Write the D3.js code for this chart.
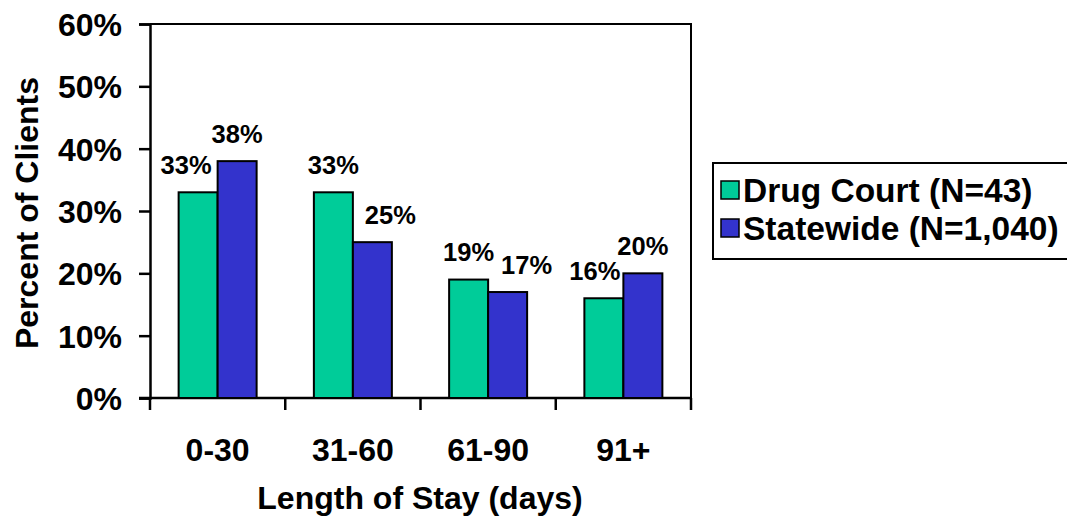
<!DOCTYPE html>
<html>
<head>
<meta charset="utf-8">
<script src="https://cdn.jsdelivr.net/npm/d3@7"></script>
<style>
  html, body { margin: 0; padding: 0; background: #fff; }
  svg text { font-family: "Liberation Sans", Arial, sans-serif; font-weight: bold; fill: #000; }
</style>
</head>
<body>
<svg id="chart" width="1067" height="521"></svg>
<script>
// Length-of-stay categories and the share of clients in each (percent)
const categories = ["0-30", "31-60", "61-90", "91+"];
const drugCourt = [33, 33, 19, 16];
const statewide = [38, 25, 17, 20];
const seriesNames = ["Drug Court (N=43)", "Statewide (N=1,040)"];
const seriesColors = ["#00CC99", "#3333CC"];
const yTicks = [0, 10, 20, 30, 40, 50, 60];

// Horizontal nudges for value labels so neighbouring labels do not collide
const labelShift = [[-12, 0], [0, 18], [0, 19], [-9, 0]];

const svg = d3.select("#chart");
const plot = { left: 150, right: 691, top: 24, bottom: 398 };

const x0 = d3.scaleBand()
  .domain(categories)
  .range([plot.left, plot.right])
  .paddingInner(0.4233)
  .paddingOuter(0.4233 / 2);

const x1 = d3.scaleBand()
  .domain([0, 1])
  .range([0, x0.bandwidth()]);

const y = d3.scaleLinear().domain([0, 60]).range([plot.bottom, plot.top]);

// Plot frame (top and right edges)
svg.append("path")
  .attr("d", `M${plot.left},${plot.top}H${plot.right}V${plot.bottom}`)
  .attr("fill", "none").attr("stroke", "#000").attr("stroke-width", 2);

// Y axis
const yAxis = svg.append("g")
  .attr("transform", `translate(${plot.left},0)`)
  .call(d3.axisLeft(y).tickValues(yTicks).tickSize(11).tickPadding(17).tickFormat(d => d + "%"));
yAxis.select(".domain").attr("stroke", "#000").attr("stroke-width", 2.5);
yAxis.selectAll(".tick line").attr("stroke", "#000").attr("stroke-width", 2.5);
yAxis.selectAll(".tick text")
  .style("font-size", "32px")
  .attr("dy", "0.36em");

// X axis: baseline plus tick marks at category boundaries
const step = x0.step();
const boundaries = categories.map(c => x0(c) - step * x0.paddingInner() / 2)
  .concat([x0(categories[categories.length - 1]) + x0.bandwidth() + step * x0.paddingInner() / 2]);

svg.append("line")
  .attr("x1", plot.left - 11).attr("x2", plot.right)
  .attr("y1", plot.bottom).attr("y2", plot.bottom)
  .attr("stroke", "#000").attr("stroke-width", 2.5);

svg.selectAll(".xtick")
  .data(boundaries)
  .join("line")
  .attr("class", "xtick")
  .attr("x1", d => d).attr("x2", d => d)
  .attr("y1", plot.bottom).attr("y2", plot.bottom + 12)
  .attr("stroke", "#000").attr("stroke-width", 2.5);

svg.selectAll(".xlabel")
  .data(categories)
  .join("text")
  .attr("class", "xlabel")
  .attr("x", d => x0(d) + x0.bandwidth() / 2)
  .attr("y", 461)
  .attr("text-anchor", "middle")
  .style("font-size", "32px")
  .text(d => d);

// Bars
const rows = categories.map((c, i) => ({ cat: c, i, values: [drugCourt[i], statewide[i]] }));

const groups = svg.selectAll(".group")
  .data(rows)
  .join("g")
  .attr("class", "group")
  .attr("transform", d => `translate(${x0(d.cat)},0)`);

groups.selectAll("rect")
  .data(d => d.values.map((v, s) => ({ v, s, i: d.i })))
  .join("rect")
  .attr("x", d => x1(d.s))
  .attr("y", d => y(d.v))
  .attr("width", x1.bandwidth())
  .attr("height", d => y(0) - y(d.v))
  .attr("fill", d => seriesColors[d.s])
  .attr("stroke", "#000")
  .attr("stroke-width", 2);

groups.selectAll(".val")
  .data(d => d.values.map((v, s) => ({ v, s, i: d.i })))
  .join("text")
  .attr("class", "val")
  .attr("x", d => x1(d.s) + x1.bandwidth() / 2 + labelShift[d.i][d.s])
  .attr("y", d => y(d.v) - 18.5)
  .attr("text-anchor", "middle")
  .style("font-size", "25.5px")
  .text(d => d.v + "%");

// Axis titles
svg.append("text")
  .attr("transform", "translate(38,213) rotate(-90)")
  .attr("text-anchor", "middle")
  .style("font-size", "32px")
  .text("Percent of Clients");

svg.append("text")
  .attr("x", 420).attr("y", 509)
  .attr("text-anchor", "middle")
  .style("font-size", "32px")
  .text("Length of Stay (days)");

// Legend
const legend = svg.append("g");
legend.append("rect")
  .attr("x", 713).attr("y", 163)
  .attr("width", 360).attr("height", 96)
  .attr("fill", "#fff").attr("stroke", "#000").attr("stroke-width", 2);

const items = legend.selectAll(".item")
  .data(seriesNames)
  .join("g")
  .attr("class", "item")
  .attr("transform", (d, i) => `translate(0,${190 + i * 38})`);

items.append("rect")
  .attr("x", 721).attr("y", -9)
  .attr("width", 18).attr("height", 18)
  .attr("fill", (d, i) => seriesColors[i])
  .attr("stroke", "#000").attr("stroke-width", 1.5);

items.append("text")
  .attr("x", 743).attr("y", 0)
  .attr("dy", "0.36em")
  .style("font-size", "33.5px")
  .text(d => d);
</script>
</body>
</html>
